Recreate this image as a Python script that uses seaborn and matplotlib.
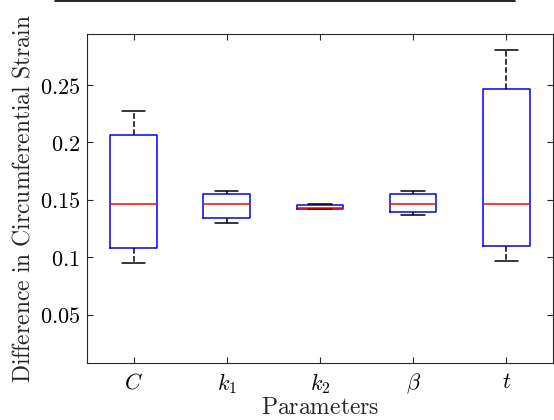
import numpy as np
import pandas as pd
import matplotlib
matplotlib.use("Agg")
import matplotlib.pyplot as plt
import seaborn as sns
from matplotlib.lines import Line2D

sns.set_style("white")
plt.rcParams['mathtext.fontset'] = 'cm'
plt.rcParams['font.family'] = ['DejaVu Serif']

params = [r'$C$', r'$k_1$', r'$k_2$', r'$\beta$', r'$t$']
# five-number summaries: min, q1, median, q3, max
mins    = [0.0950, 0.1300, 0.1422, 0.1365, 0.0970]
q1s     = [0.1079, 0.1338, 0.1422, 0.1391, 0.1094]
medians = [0.1465, 0.1465, 0.1425, 0.1465, 0.1465]
q3s     = [0.2065, 0.1550, 0.1456, 0.1550, 0.2468]
maxs    = [0.2273, 0.1576, 0.1465, 0.1574, 0.2808]
yticks = [0.05, 0.1, 0.15, 0.2, 0.25]
ytick_labels = ['0.05', '0.1', '0.15', '0.2', '0.25']

rows = []
for p, a, b, c, d, e in zip(params, mins, q1s, medians, q3s, maxs):
    for v in (a, b, c, d, e):
        rows.append({'param': p, 'value': v})
df = pd.DataFrame(rows)

fig = plt.figure(figsize=(5.54, 4.2), dpi=100)
ax = fig.add_axes([0.157, 0.136, 0.841, 0.783])

sns.boxplot(data=df, x='param', y='value', order=params, whis=np.inf,
            width=0.5, ax=ax, fill=False, linewidth=1.1,
            boxprops=dict(color='blue', linewidth=1.1),
            medianprops=dict(color='red', linewidth=1.1),
            whiskerprops=dict(color='black', linestyle='--', linewidth=1.1),
            capprops=dict(color='black', linewidth=1.1),
            capwidths=0.25)

ax.set_xlim(-0.5, 4.5)
ax.set_ylim(0.008, 0.2944)
ax.set_yticks(yticks)
ax.set_yticklabels([r'$%s$' % t for t in ytick_labels], fontsize=16)
ax.set_xticks(range(len(params)))
ax.set_xticklabels(params, fontsize=16)
ax.set_xlabel(r'$\mathrm{Parameters}$', fontsize=17, labelpad=0)
ax.set_ylabel(r'$\mathrm{Difference\ in\ Circumferential\ Strain}$', fontsize=17, labelpad=4)

for s in ax.spines.values():
    s.set_visible(True)
    s.set_color('#262626')
    s.set_linewidth(0.8)
ax.tick_params(direction='in', length=4, width=0.8, colors='#262626',
               top=True, right=True, bottom=True, left=True, labelcolor='black')
ax.tick_params(axis='x', pad=6)
ax.tick_params(axis='y', pad=5)

fig.add_artist(Line2D([55/554, 515/554], [0.998, 0.998], color='black', linewidth=1.2))

fig.savefig('out.png', dpi=100)
